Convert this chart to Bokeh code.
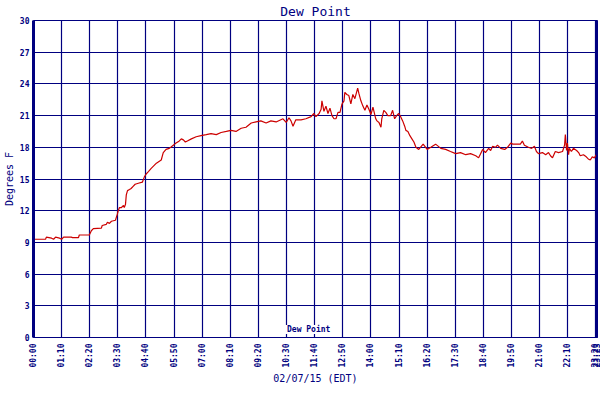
from bokeh.plotting import figure
from bokeh.models import Range1d, FixedTicker, Legend, LegendItem, Span
from bokeh.embed import file_html
from bokeh.resources import INLINE

# minutes after midnight
minutes = [0, 2.5, 30, 32, 45, 50, 55, 65, 70, 75, 94, 97, 112, 114, 139, 144, 149, 169, 171, 181,
           184, 189, 194, 204, 206, 209, 211, 214, 219, 224, 226, 229, 231, 234, 239, 243, 248, 253,
           261, 271, 276, 281, 286, 293, 306, 318, 323, 330, 338, 348, 353, 363, 368, 373, 378, 383,
           393, 405, 417, 430, 442, 455, 467, 480, 492, 504, 517, 529, 542, 554, 566, 579, 591, 604,
           621, 629, 636, 641, 646, 653, 666, 678, 691, 698, 703, 711, 716, 718, 720, 723, 728, 733,
           738, 743, 748, 753, 758, 763, 768, 773, 775, 780, 785, 790, 795, 800, 807, 810, 815, 820,
           825, 830, 835, 840, 845, 852, 855, 860, 865, 867, 872, 877, 882, 889, 894, 899, 904, 909,
           914, 919, 924, 927, 932, 937, 942, 947, 952, 959, 970, 980, 989, 1001, 1014, 1026, 1038,
           1051, 1063, 1076, 1088, 1101, 1108, 1113, 1118, 1125, 1133, 1138, 1143, 1150, 1155, 1163,
           1173, 1180, 1188, 1193, 1200, 1212, 1217, 1222, 1232, 1240, 1247, 1252, 1257, 1267, 1275,
           1282, 1287, 1292, 1299, 1307, 1317, 1322, 1324, 1327, 1329, 1332, 1334, 1339, 1344, 1352,
           1357, 1361, 1369, 1376, 1381, 1386, 1391, 1396, 1403]
dew_point = [9.2, 9.3, 9.3, 9.5, 9.4, 9.3, 9.5, 9.4, 9.3, 9.5, 9.5, 9.45, 9.45, 9.7, 9.7, 10.1, 10.3,
             10.35, 10.6, 10.7, 10.9, 10.8, 11.0, 11.1, 11.35, 11.7, 12.0, 12.3, 12.3, 12.5, 12.3,
             12.6, 13.5, 13.9, 14.0, 14.1, 14.3, 14.5, 14.6, 14.7, 15.2, 15.5, 15.7, 16.0, 16.5, 16.8,
             17.5, 17.8, 17.9, 18.2, 18.35, 18.6, 18.8, 18.7, 18.5, 18.6, 18.8, 19.0, 19.1, 19.2,
             19.3, 19.2, 19.4, 19.5, 19.6, 19.5, 19.8, 19.9, 20.3, 20.4, 20.5, 20.3, 20.5, 20.4,
             20.7, 20.35, 20.8, 20.5, 20.0, 20.6, 20.6, 20.7, 20.9, 21.2, 20.9, 21.2, 21.6, 22.4,
             22.0, 21.4, 21.9, 21.2, 21.7, 21.0, 20.7, 20.7, 21.3, 21.3, 22.1, 22.4, 23.2, 23.0,
             22.9, 22.1, 23.0, 22.6, 23.6, 23.1, 22.4, 21.9, 21.5, 22.0, 21.6, 21.1, 21.8, 20.7,
             20.5, 20.35, 19.9, 20.7, 21.5, 21.3, 21.0, 21.0, 21.5, 20.7, 21.0, 21.2, 20.9, 20.5,
             20.0, 19.6, 19.5, 19.1, 18.8, 18.5, 18.0, 17.8, 18.3, 17.8, 18.0, 18.3, 17.9, 17.8,
             17.6, 17.4, 17.5, 17.3, 17.4, 17.2, 17.0, 17.4, 17.8, 17.5, 17.9, 17.7, 18.1, 18.0,
             18.2, 17.9, 17.8, 18.0, 18.4, 18.3, 18.3, 18.3, 18.6, 18.2, 18.0, 17.9, 18.1, 17.6,
             17.4, 17.5, 17.3, 17.5, 17.2, 17.0, 17.6, 17.5, 17.6, 18.2, 19.2, 17.7, 18.4, 17.3,
             17.9, 17.6, 17.9, 17.7, 17.5, 17.2, 17.3, 17.1, 16.9, 16.8, 17.1, 17.0, 17.4]

x_ticks = [0, 70, 140, 210, 280, 350, 420, 490, 560, 630, 700, 770, 840, 910, 980, 1050, 1120,
           1190, 1260, 1330, 1400, 1403]
x_tick_labels = ["00:00", "01:10", "02:20", "03:30", "04:40", "05:50", "07:00", "08:10", "09:20",
                 "10:30", "11:40", "12:50", "14:00", "15:10", "16:20", "17:30", "18:40", "19:50",
                 "21:00", "22:10", "23:20", "23:23"]
y_ticks = [0, 3, 6, 9, 12, 15, 18, 21, 24, 27, 30]

NAVY = "#000080"
RED = "#CC0000"
MONO = "DejaVu Sans Mono"

p = figure(frame_width=564, frame_height=317, output_backend="svg", toolbar_location=None,
           x_range=Range1d(0, 1404), y_range=Range1d(0, 30),
           min_border_left=10, min_border_right=4, min_border_top=4, min_border_bottom=0,
           title="Dew Point")
p.title.align = "center"
p.title.text_color = NAVY
p.title.text_font = MONO
p.title.text_font_size = "13px"
p.title.text_font_style = "normal"
p.title.offset = 0
p.title.standoff = 3

p.outline_line_color = NAVY
p.outline_line_width = 1

for ax in (p.xaxis[0], p.yaxis[0]):
    ax.major_tick_out = 0
    ax.major_tick_in = 0
    ax.minor_tick_out = 0
    ax.minor_tick_in = 0
    ax.axis_line_color = NAVY
    ax.major_label_text_color = NAVY
    ax.major_label_text_font = MONO
    ax.major_label_text_font_size = "8px"
    ax.major_label_text_font_style = "bold"
    ax.axis_label_text_color = NAVY
    ax.axis_label_text_font = MONO
    ax.axis_label_text_font_style = "normal"
    ax.axis_label_text_font_size = "10px"

p.yaxis.axis_line_width = 3
p.yaxis.ticker = FixedTicker(ticks=y_ticks)
p.yaxis.axis_label = "Degrees F"
p.yaxis.major_label_standoff = 4
p.yaxis.axis_label_standoff = 2

p.xaxis.ticker = FixedTicker(ticks=x_ticks)
p.xaxis.major_label_overrides = {t: l for t, l in zip(x_ticks, x_tick_labels)}
p.xaxis.major_label_orientation = 1.5707963
p.xaxis.major_label_standoff = 6
p.xaxis.axis_label = "02/07/15 (EDT)"
p.xaxis.axis_label_standoff = 2

p.xgrid.ticker = FixedTicker(ticks=x_ticks)
p.ygrid.ticker = FixedTicker(ticks=y_ticks)
for g in (p.xgrid[0], p.ygrid[0]):
    g.grid_line_color = NAVY
    g.grid_line_width = 1.2
    g.grid_line_alpha = 1

p.add_layout(Span(location=1404, dimension="height", line_color=NAVY, line_width=3))

r = p.line(minutes, dew_point, line_color=RED, line_width=1.2)
r_leg = p.line([], [], line_color=RED, line_width=2.5)

legend = Legend(items=[LegendItem(label="Dew Point", renderers=[r_leg])], orientation="horizontal",
                location=(237, 3), border_line_color=None, background_fill_color="white",
                background_fill_alpha=1.0,
                label_text_font=MONO, label_text_font_size="8px", label_text_font_style="bold",
                label_text_line_height=1.0,
                label_text_color=NAVY, glyph_width=14, glyph_height=6, padding=1, margin=0,
                spacing=0, label_standoff=3, label_height=6)
p.add_layout(legend)

open("out.html", "w").write(file_html(p, INLINE))
